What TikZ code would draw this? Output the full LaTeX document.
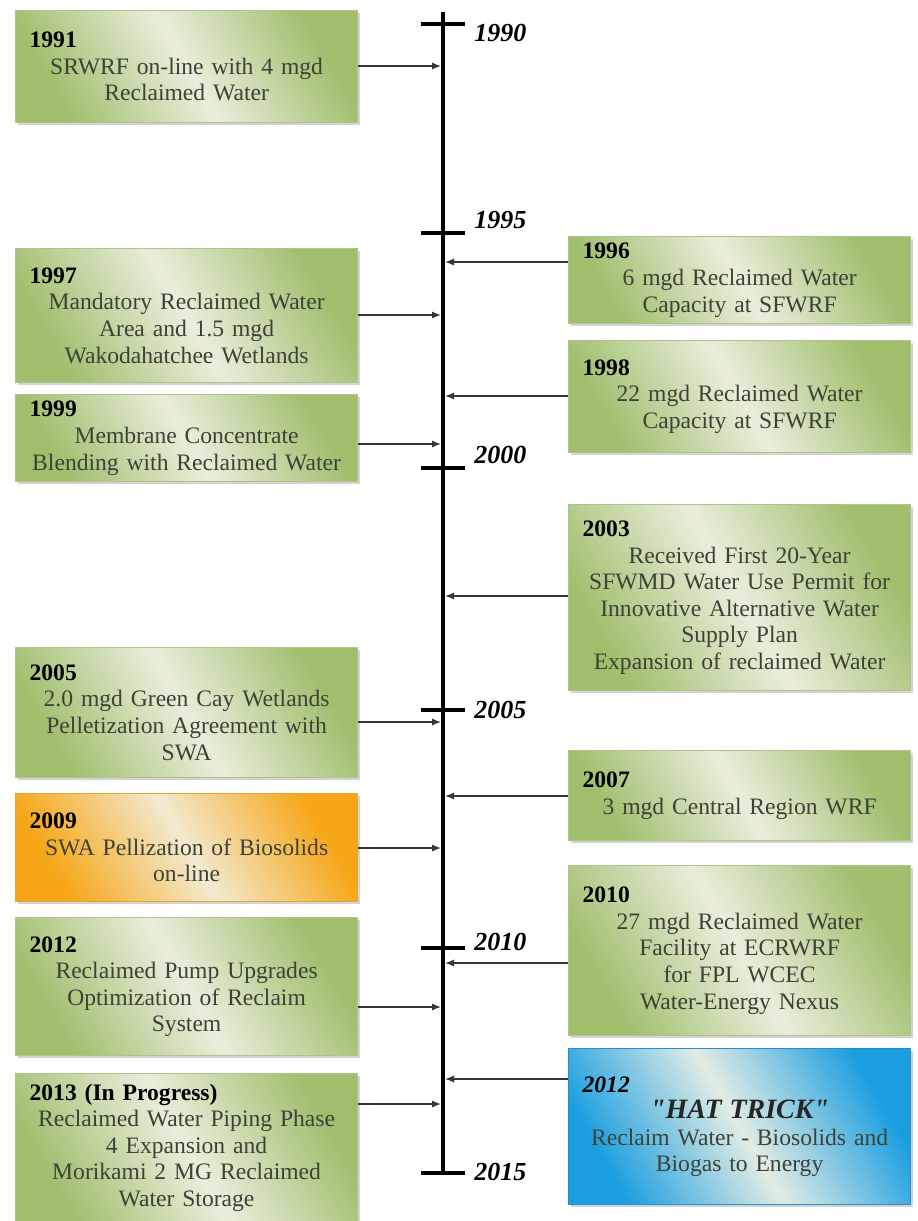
\documentclass[tikz,border=0pt]{standalone}
\usepackage{fontspec}
\setmainfont{Liberation Serif}
\usepackage{tikz}
\usetikzlibrary{arrows.meta,positioning,shadows}
\usepackage{xcolor}
\definecolor{leafgreen}{RGB}{160,190,108}
\definecolor{palegreen}{RGB}{233,238,220}
\definecolor{greenedge}{RGB}{176,196,138}
\definecolor{amber}{RGB}{246,166,22}
\definecolor{paleamber}{RGB}{242,234,208}
\definecolor{amberedge}{RGB}{228,164,60}
\definecolor{skyblue}{RGB}{26,158,224}
\definecolor{paleblue}{RGB}{226,236,228}
\definecolor{blueedge}{RGB}{40,140,205}
\definecolor{bodytext}{RGB}{60,66,54}
\definecolor{arrowgray}{RGB}{55,55,55}

\begin{document}
\begin{tikzpicture}[x=0.5pt,y=-0.5pt,
    evbox/.style={line width=0.6pt, text width=157pt, inner xsep=7pt, align=center, anchor=north west,
        font=\fontsize{11.8}{13.3}\selectfont, text=bodytext,
        drop shadow={shadow xshift=1pt, shadow yshift=-1.2pt, opacity=0.35}},
    greenbox/.style={evbox, draw=greenedge, left color=leafgreen, right color=leafgreen, middle color=palegreen, shading angle=120},
    orangebox/.style={evbox, draw=amberedge, left color=amber, right color=amber, middle color=paleamber, shading angle=120},
    bluebox/.style={evbox, draw=blueedge, left color=skyblue, right color=skyblue, middle color=paleblue, shading angle=120},
    yearlbl/.style={anchor=west, inner sep=0pt, font=\fontsize{13}{13}\selectfont\bfseries\itshape},
    arr/.style={draw=arrowgray, line width=0.7pt, -{Latex[length=4.5pt,width=3.6pt]}}]
    \useasboundingbox (0,0) rectangle (917,1221);

    % Timeline
    \draw[line width=1.8pt] (443,12) -- (443,1173);
    \foreach \y/\ly/\yr in {24/33/1990, 233/220/1995, 468/455/2000, 710/710/2005, 948/942/2010, 1173/1172/2015} {
        \draw[line width=1.8pt] (421,\y) -- (465,\y);
        \node[yearlbl] (y\yr) at (474,\ly) {\yr};
    }

    % Left column
    \node[greenbox, minimum height=56pt] (srwrf) at (15,10)
        {\makebox[\linewidth][l]{\textcolor{black}{\textbf{1991}}} \\ SRWRF on-line with 4 mgd \\ Reclaimed Water};
    \node[greenbox, minimum height=67pt] (mandatory) at (15,248)
        {\makebox[\linewidth][l]{\textcolor{black}{\textbf{1997}}} \\ Mandatory Reclaimed Water \\ Area and 1.5 mgd \\ Wakodahatchee Wetlands};
    \node[greenbox, minimum height=42pt] (membrane) at (15,394)
        {\makebox[\linewidth][l]{\textcolor{black}{\textbf{1999}}} \\ Membrane Concentrate \\ Blending with Reclaimed Water};
    \node[greenbox, minimum height=65pt] (greencay) at (15,647)
        {\makebox[\linewidth][l]{\textcolor{black}{\textbf{2005}}} \\ 2.0 mgd Green Cay Wetlands \\ Pelletization Agreement with \\ SWA};
    \node[orangebox, minimum height=54pt] (pellization) at (15,793)
        {\makebox[\linewidth][l]{\textcolor{black}{\textbf{2009}}} \\ SWA Pellization of Biosolids \\ on-line};
    \node[greenbox, minimum height=69pt] (pumps) at (15,917)
        {\makebox[\linewidth][l]{\textcolor{black}{\textbf{2012}}} \\ Reclaimed Pump Upgrades \\ Optimization of Reclaim \\ System};
    \node[greenbox, minimum height=74pt] (morikami) at (15,1073)
        {\makebox[\linewidth][l]{\textcolor{black}{\textbf{2013 (In Progress)}}} \\ Reclaimed Water Piping Phase \\ 4 Expansion and \\ Morikami 2 MG Reclaimed \\ Water Storage};

    % Right column
    \node[greenbox, minimum height=40pt] (sixmgd) at (568,236)
        {\makebox[\linewidth][l]{\textcolor{black}{\textbf{1996}}} \\ 6 mgd Reclaimed Water \\ Capacity at SFWRF};
    \node[greenbox, minimum height=56pt] (twentytwo) at (568,340)
        {\makebox[\linewidth][l]{\textcolor{black}{\textbf{1998}}} \\ 22 mgd Reclaimed Water \\ Capacity at SFWRF};
    \node[greenbox, minimum height=93pt] (permit) at (568,504)
        {\makebox[\linewidth][l]{\textcolor{black}{\textbf{2003}}} \\ Received First 20-Year \\ SFWMD Water Use Permit for \\ Innovative Alternative Water \\ Supply Plan \\ Expansion of reclaimed Water};
    \node[greenbox, minimum height=45pt] (central) at (568,750)
        {\makebox[\linewidth][l]{\textcolor{black}{\textbf{2007}}} \\ 3 mgd Central Region WRF};
    \node[greenbox, minimum height=85pt] (ecrwrf) at (568,865)
        {\makebox[\linewidth][l]{\textcolor{black}{\textbf{2010}}} \\ 27 mgd Reclaimed Water \\ Facility at ECRWRF \\ for FPL WCEC \\ Water-Energy Nexus};
    \node[bluebox, minimum height=78pt] (hattrick) at (568,1048)
        {\makebox[\linewidth][l]{\textcolor{black}{\textbf{\textit{2012}}}} \\ {\fontsize{14}{15}\selectfont\textcolor{black!85}{\textbf{\textit{\textquotedbl HAT TRICK\textquotedbl}}}} \\ Reclaim Water - Biosolids and \\ Biogas to Energy};

    % Arrow ends on the timeline
    \coordinate (srwrf-in) at (441,66);
    \coordinate (mandatory-in) at (441,315);
    \coordinate (membrane-in) at (441,444);
    \coordinate (greencay-in) at (441,722);
    \coordinate (pellization-in) at (441,848);
    \coordinate (pumps-in) at (441,1007);
    \coordinate (morikami-in) at (441,1104);
    \coordinate (sixmgd-in) at (445,262);
    \coordinate (twentytwo-in) at (445,396);
    \coordinate (permit-in) at (445,596);
    \coordinate (central-in) at (445,796);
    \coordinate (ecrwrf-in) at (445,963);
    \coordinate (hattrick-in) at (445,1079);

    % Arrows
    \foreach \ev in {srwrf, mandatory, membrane, greencay, pellization, pumps, morikami}
        \draw[arr] (\ev.east |- \ev-in) -- (\ev-in);
    \foreach \ev in {sixmgd, twentytwo, permit, central, ecrwrf, hattrick}
        \draw[arr] (\ev.west |- \ev-in) -- (\ev-in);
\end{tikzpicture}
\end{document}
